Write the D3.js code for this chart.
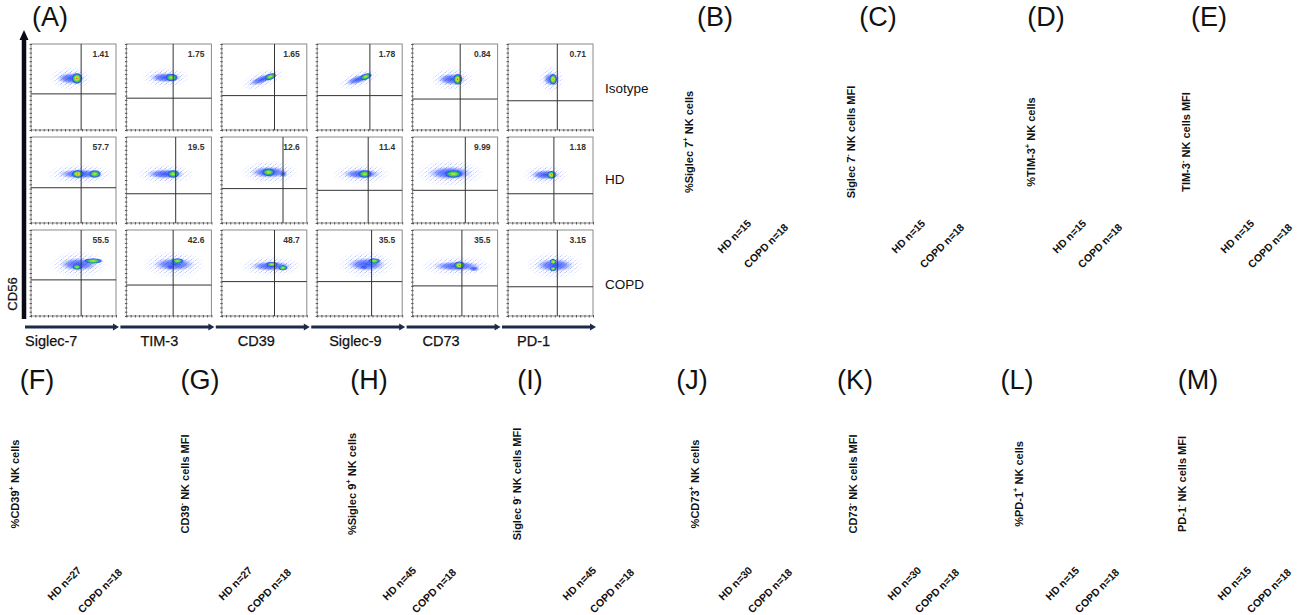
<!DOCTYPE html>
<html>
<head>
<meta charset="utf-8">
<script src="https://cdn.jsdelivr.net/npm/d3@7"></script>
<style>
  body { margin: 0; background: #fff; }
  text { font-family: "Liberation Sans", Arial, sans-serif; }
</style>
</head>
<body>
<script>
// panel A: flow plots
var markers = ["Siglec-7", "TIM-3", "CD39", "Siglec-9", "CD73", "PD-1"];
var groups = ["Isotype", "HD", "COPD"];
var percent = [
  [1.41, 1.75, 1.65, 1.78, 0.84, 0.71],
  [57.7, 19.5, 12.6, 11.4, 9.99, 1.18],
  [55.5, 42.6, 48.7, 35.5, 35.5, 3.15]
];
// quadrant gates (0-100 channel units)
var gateX = [
  [59, 55, 62, 62, 56, 58],
  [59, 58, 72, 60, 62, 54],
  [59, 55, 62, 64, 58, 58]
];
var gateY = [
  [42, 37, 40, 40, 36, 34],
  [41, 34, 40, 38, 38, 34],
  [42, 36, 40, 40, 35, 34]
];
// density blobs per plot: [x, y, rx, ry, rotate, heat]
var clouds = [
  [
    [[47, 60, 17, 7, 0, 1], [54, 60, 7, 7, 0, 3]],
    [[46, 61, 19, 6, 0, 1], [53, 61, 8, 5, 0, 2]],
    [[48, 59, 18, 5, -20, 1], [57, 62, 8, 4, -20, 2]],
    [[49, 59, 17, 5, -18, 1], [57, 62, 8, 4, -20, 2]],
    [[46, 59, 17, 7, 0, 1], [53, 59, 6, 7, 0, 3]],
    [[51, 59, 10, 8, 0, 1], [53, 59, 5, 7, 0, 3]]
  ],
  [
    [[58, 57, 27, 6, 0, 1], [55, 57, 8, 5, 0, 3], [75, 57, 8, 5, 0, 2]],
    [[46, 57, 23, 6, 0, 1], [55, 57, 8, 5, 0, 2]],
    [[56, 59, 23, 7, 0, 1], [55, 59, 9, 5, 0, 2], [72, 57, 5, 4, 0, 1]],
    [[52, 57, 23, 6, 0, 1], [56, 57, 9, 5, 0, 2]],
    [[44, 58, 27, 8, 0, 1], [48, 57, 12, 5, 0, 2]],
    [[44, 56, 18, 6, 0, 1], [51, 56, 6, 5, 0, 3]]
  ],
  [
    [[56, 60, 23, 8, 0, 1], [73, 64, 12, 3.5, 0, 2], [54, 57, 6, 3.5, 0, 2]],
    [[56, 60, 25, 8, 0, 1], [60, 64, 8, 3.5, 0, 2], [52, 57, 6, 3.5, 0, 1]],
    [[58, 58, 25, 6, 0, 1], [59, 60, 8, 3.5, 0, 2], [72, 56, 6, 3.5, 0, 2]],
    [[58, 60, 23, 8, 0, 1], [67, 64, 8, 3.5, 0, 2], [55, 57, 6, 3.5, 0, 1]],
    [[52, 58, 29, 6, 0, 1], [55, 59, 7, 5, 0, 3], [72, 55, 7, 3.5, 0, 1]],
    [[55, 59, 23, 8, 0, 1], [53, 63, 4.5, 3.5, 0, 3], [53, 55, 4.5, 3.5, 0, 2]]
  ]
];

// panels B-M: labels only
var panelLetters = ["B", "C", "D", "E", "F", "G", "H", "I", "J", "K", "L", "M"];
var yLabelMain = ["%Siglec 7", "Siglec 7", "%TIM-3", "TIM-3", "%CD39", "CD39",
                  "%Siglec 9", "Siglec 9", "%CD73", "CD73", "%PD-1", "PD-1"];
var yLabelSup = ["+", "-", "+", "-", "+", "-", "+", "-", "+", "-", "+", "-"];
var yLabelTail = [" NK cells", " NK cells MFI", " NK cells", "  NK cells MFI", " NK cells", " NK cells MFI",
                  " NK cells", " NK cells MFI", " NK cells", " NK cells MFI", " NK cells", "  NK cells MFI"];
var hdN = [15, 15, 15, 15, 27, 27, 45, 45, 30, 30, 15, 15];
var copdN = [18, 18, 18, 18, 18, 18, 18, 18, 18, 18, 18, 18];

// layout
var W = 1302, H = 615;
var plotW = 85, plotH = 86;
var panelLetterX = [715, 878, 1046, 1209, 37, 200, 369, 530, 692, 855, 1017, 1198];
var yLabelX = [689, 851, 1031, 1186, 15, 185, 352, 517, 695, 853, 1019, 1182];
var hdEndX = [752, 926, 1087, 1255, 82, 253, 417, 597, 753, 922, 1080, 1252];
var copdEndX = [789, 965, 1123, 1293, 123, 292, 457, 635, 793, 960, 1120, 1292];
var rowLetterY = [26, 389], rowYLabelY = [142, 484], rowHdY = [224, 571], rowCopdY = [228, 573];
var groupLabelY = [88, 179, 284];
var markerLabelDx = [-6, 14, 16, 12, 10, 9];

var svg = d3.select("body").append("svg")
    .attr("width", W).attr("height", H);

var defs = svg.append("defs");
var heatStops = {
  1: [[0, "#2f4cf5", 0.95], [0.55, "#4a68ff", 0.7], [1, "#a8b6ff", 0]],
  2: [[0, "#d6e630", 1], [0.2, "#95dc3a", 1], [0.45, "#2fcf5a", 1], [0.75, "#2a4bff", 0.9], [1, "#6b86ff", 0]],
  3: [[0, "#e3261b", 1], [0.15, "#f5c020", 1], [0.32, "#b5e030", 1], [0.52, "#31cf57", 1], [0.78, "#2a48ff", 0.9], [1, "#6b86ff", 0]]
};
Object.keys(heatStops).forEach(function(k) {
  var g = defs.append("radialGradient").attr("id", "heat" + k);
  heatStops[k].forEach(function(s) {
    g.append("stop").attr("offset", s[0]).attr("stop-color", s[1]).attr("stop-opacity", s[2]);
  });
});
// faint speckle for the sparse events around each cloud
var fade = defs.append("radialGradient").attr("id", "fade");
fade.append("stop").attr("offset", 0).attr("stop-color", "#fff");
fade.append("stop").attr("offset", 0.6).attr("stop-color", "#888");
fade.append("stop").attr("offset", 1).attr("stop-color", "#000");
var speck = defs.append("pattern").attr("id", "speck")
    .attr("patternUnits", "userSpaceOnUse").attr("width", 5).attr("height", 4);
[[0, 0], [2.5, 2], [1, 3], [3.5, 0.5]].forEach(function(p) {
  speck.append("rect").attr("x", p[0]).attr("y", p[1]).attr("width", 1).attr("height", 1)
      .attr("fill", "#6f86ff");
});

var colX = d3.scalePoint().domain(markers).range([31, 508]);
var rowY = d3.scalePoint().domain(groups).range([44, 230]);
var x = d3.scaleLinear().domain([0, 100]).range([0, plotW]);
var y = d3.scaleLinear().domain([0, 100]).range([plotH, 0]);

groups.forEach(function(grp, r) {
  markers.forEach(function(m, c) {
    var g = svg.append("g")
        .attr("transform", "translate(" + colX(m) + "," + rowY(grp) + ")");

    g.append("rect").attr("width", plotW).attr("height", plotH)
        .attr("fill", "#fff").attr("stroke", "#8a8a8a").attr("stroke-width", 1);

    var main = clouds[r][c][0];
    var mid = "m" + r + "_" + c;
    defs.append("mask").attr("id", mid).append("ellipse")
        .attr("cx", colX(m) + x(main[0])).attr("cy", rowY(grp) + y(main[1]))
        .attr("rx", x(main[2]) * 1.5).attr("ry", (plotH - y(main[3])) * 2)
        .attr("transform", "rotate(" + main[4] + "," + (colX(m) + x(main[0])) + "," + (rowY(grp) + y(main[1])) + ")")
        .attr("fill", "url(#fade)");
    svg.append("rect").attr("x", colX(m) + 1).attr("y", rowY(grp) + 1)
        .attr("width", plotW - 2).attr("height", plotH - 2)
        .attr("fill", "url(#speck)").attr("mask", "url(#" + mid + ")");

    g = svg.append("g")
        .attr("transform", "translate(" + colX(m) + "," + rowY(grp) + ")");

    g.selectAll("ellipse.blob").data(clouds[r][c]).enter().append("ellipse")
        .attr("class", "blob")
        .attr("cx", d => x(d[0])).attr("cy", d => y(d[1]))
        .attr("rx", d => x(d[2])).attr("ry", d => plotH - y(d[3]))
        .attr("transform", d => "rotate(" + d[4] + "," + x(d[0]) + "," + y(d[1]) + ")")
        .attr("fill", d => "url(#heat" + d[5] + ")");

    // quadrant gates
    g.append("line").attr("x1", x(gateX[r][c])).attr("x2", x(gateX[r][c]))
        .attr("y1", 0).attr("y2", plotH).attr("stroke", "#333").attr("stroke-width", 1);
    g.append("line").attr("x1", 0).attr("x2", plotW)
        .attr("y1", y(gateY[r][c])).attr("y2", y(gateY[r][c]))
        .attr("stroke", "#333").attr("stroke-width", 1);

    // tiny ticks along left and bottom
    var ax = g.append("g").call(d3.axisLeft(y).ticks(20).tickSizeInner(2.5).tickSizeOuter(0).tickFormat(""));
    ax.select(".domain").remove();
    ax.selectAll("line").attr("stroke", "#555").attr("transform", "translate(1,0)");
    var bx = g.append("g").attr("transform", "translate(0," + plotH + ")")
        .call(d3.axisBottom(x).ticks(20).tickSizeInner(2.5).tickSizeOuter(0).tickFormat(""));
    bx.select(".domain").remove();
    bx.selectAll("line").attr("stroke", "#555").attr("transform", "translate(0,-1)");

    g.append("text").attr("x", plotW - 7).attr("y", 13)
        .attr("text-anchor", "end").attr("font-size", 8.5).attr("font-weight", "bold")
        .attr("fill", "#333").text(percent[r][c]);
  });
  svg.append("text").attr("x", 605).attr("y", groupLabelY[r]).attr("dy", "0.35em")
      .attr("font-size", 13.5).attr("fill", "#111").text(grp);
});

// axis arrows
markers.forEach(function(m, c) {
  var x0 = colX(m) - 6, x1 = colX(m) + plotW + 2, yy = 327;
  svg.append("line").attr("x1", x0).attr("x2", x1 - 3).attr("y1", yy).attr("y2", yy)
      .attr("stroke", "#1c2b4a").attr("stroke-width", 3);
  svg.append("path").attr("d", "M" + (x1 - 5) + "," + (yy - 3.5) + "L" + (x1 + 1) + "," + yy + "L" + (x1 - 5) + "," + (yy + 3.5) + "Z")
      .attr("fill", "#1c2b4a");
  svg.append("text").attr("x", colX(m) + markerLabelDx[c]).attr("y", 346)
      .attr("font-size", 14.5).attr("fill", "#111").attr("stroke", "#111").attr("stroke-width", 0.25)
      .text(m);
});
svg.append("line").attr("x1", 24).attr("x2", 24).attr("y1", 319).attr("y2", 38)
    .attr("stroke", "#0b0b18").attr("stroke-width", 4.5);
svg.append("path").attr("d", "M24,30L19.5,40L28.5,40Z").attr("fill", "#0b0b18");
svg.append("text").attr("transform", "translate(17,294) rotate(-90)")
    .attr("text-anchor", "middle").attr("font-size", 13).attr("fill", "#111")
    .attr("stroke", "#111").attr("stroke-width", 0.25).text("CD56");
svg.append("text").attr("x", 50).attr("y", 26).attr("text-anchor", "middle")
    .attr("font-size", 27).attr("fill", "#111").text("(A)");

// panels B-M
panelLetters.forEach(function(L, i) {
  var row = i < 4 ? 0 : 1;
  svg.append("text").attr("x", panelLetterX[i]).attr("y", rowLetterY[row])
      .attr("text-anchor", "middle").attr("font-size", 27).attr("fill", "#111")
      .text("(" + L + ")");

  var t = svg.append("text")
      .attr("transform", "translate(" + (yLabelX[i] + 4) + "," + rowYLabelY[row] + ") rotate(-90)")
      .attr("text-anchor", "middle").attr("font-size", 11).attr("font-weight", "bold").attr("fill", "#111");
  t.append("tspan").text(yLabelMain[i]);
  t.append("tspan").attr("font-size", 7.5).attr("dy", -5).text(yLabelSup[i]);
  t.append("tspan").attr("dy", 5).text(yLabelTail[i]);

  svg.append("text")
      .attr("transform", "translate(" + hdEndX[i] + "," + rowHdY[row] + ") rotate(-45)")
      .attr("text-anchor", "end").attr("font-size", 10.5).attr("font-weight", "bold").attr("fill", "#111")
      .text("HD n=" + hdN[i]);
  svg.append("text")
      .attr("transform", "translate(" + copdEndX[i] + "," + rowCopdY[row] + ") rotate(-45)")
      .attr("text-anchor", "end").attr("font-size", 10.5).attr("font-weight", "bold").attr("fill", "#111")
      .text("COPD n=" + copdN[i]);
});
</script>
</body>
</html>
